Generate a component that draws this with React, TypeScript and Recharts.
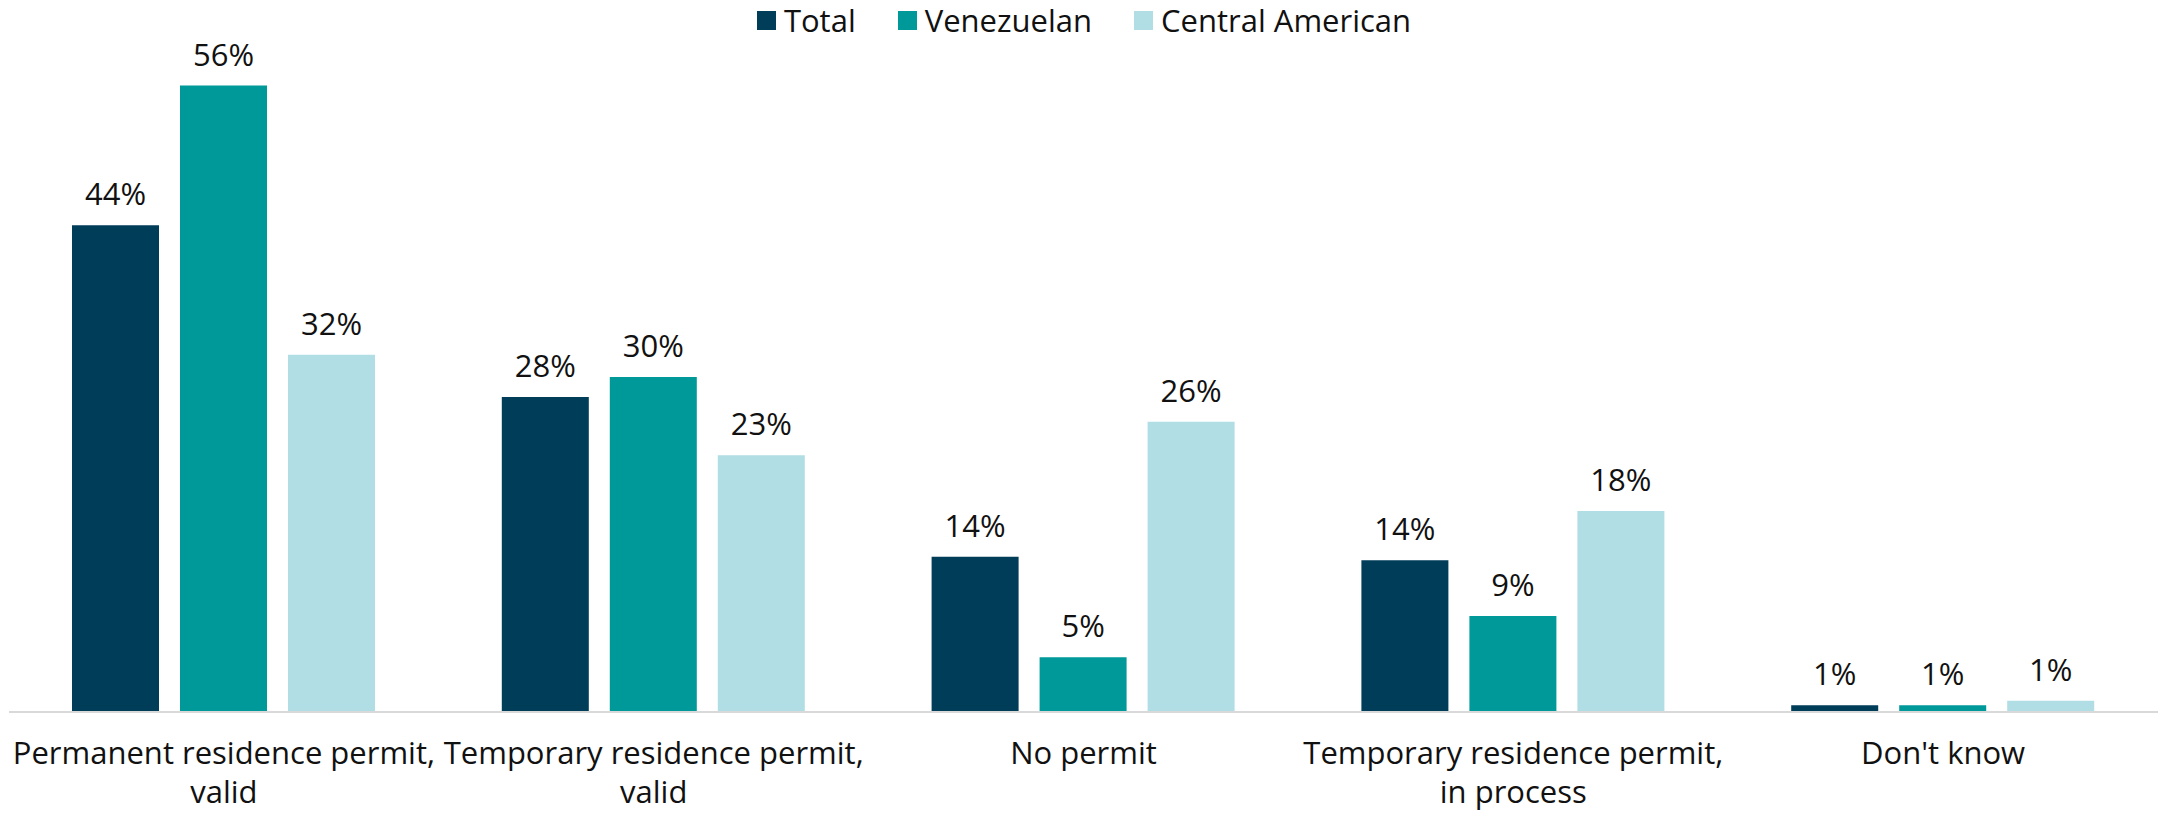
import { BarChart, Bar, XAxis, YAxis, LabelList } from 'recharts'

const categories = [
  'Permanent residence permit,|valid',
  'Temporary residence permit,|valid',
  'No permit',
  'Temporary residence permit,|in process',
  "Don't know"
]
const total = [43.6, 28.2, 13.9, 13.6, 0.6]
const venezuelan = [56.1, 30.0, 4.9, 8.6, 0.6]
const centralAmerican = [32.0, 23.0, 26.0, 18.0, 1.0]

const series = [
  { key: 'total', name: 'Total', color: '#003d58' },
  { key: 'venezuelan', name: 'Venezuelan', color: '#009999' },
  { key: 'central', name: 'Central American', color: '#b0dee4' }
]

const data = categories.map((c, i) => ({
  name: c,
  total: total[i],
  venezuelan: venezuelan[i],
  central: centralAmerican[i]
}))

const FONT = '"Open Sans", Lato, sans-serif'

const CategoryTick = (props: any) => {
  const { x, y, payload } = props
  const lines = String(payload.value).split('|')
  return (
    <text x={x} y={y} textAnchor="middle" fontFamily={FONT} fontSize={31} fill="#111">
      {lines.map((l, i) => (
        <tspan key={i} x={x} dy={i === 0 ? 44 : 39}>{l}</tspan>
      ))}
    </text>
  )
}

const fmt = (v: any) => `${Math.round(Number(v))}%`

export default function App() {
  return (
    <div style={{ position: 'relative', width: 2160, height: 814, background: '#fff' }}>
      <style>{'body{margin:0}'}</style>
      <div
        style={{
          position: 'absolute',
          top: -1,
          left: 0,
          width: 2160,
          display: 'flex',
          justifyContent: 'center',
          paddingLeft: 50,
          boxSizing: 'border-box',
          fontFamily: FONT,
          fontSize: 31,
          color: '#111',
          zIndex: 2
        }}
      >
        {series.map((s) => (
          <div key={s.key} style={{ display: 'flex', alignItems: 'center', marginRight: 42 }}>
            <span style={{ width: 19, height: 19, background: s.color, display: 'inline-block', marginRight: 8 }} />
            <span>{s.name}</span>
          </div>
        ))}
      </div>
      <BarChart
        width={2160}
        height={814}
        data={data}
        margin={{ top: 42, right: 2, left: 9, bottom: 0 }}
        barSize={87}
        barGap={21}
      >
        <XAxis
          dataKey="name"
          height={102}
          tickLine={false}
          axisLine={{ stroke: '#d9d9d9', strokeWidth: 2 }}
          tick={<CategoryTick />}
          interval={0}
        />
        <YAxis hide domain={[0, 60]} />
        {series.map((s) => (
          <Bar key={s.key} dataKey={s.key} name={s.name} fill={s.color} isAnimationActive={false}>
            <LabelList
              dataKey={s.key}
              position="top"
              offset={20}
              formatter={fmt}
              style={{ fontFamily: FONT, fontSize: 31, fill: '#111' }}
            />
          </Bar>
        ))}
      </BarChart>
    </div>
  )
}
